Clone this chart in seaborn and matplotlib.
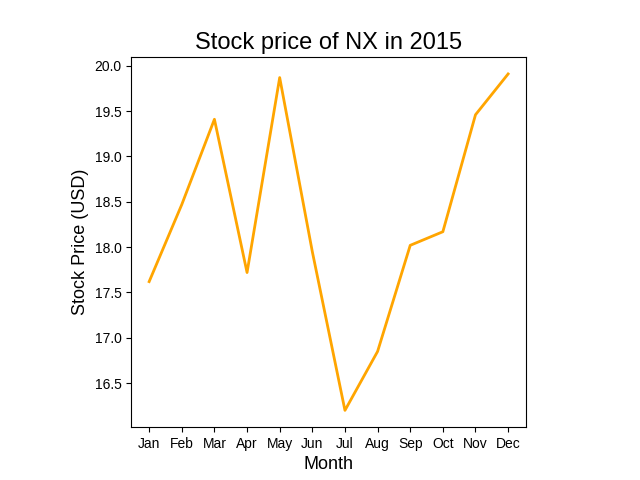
import matplotlib
matplotlib.use("Agg")
import matplotlib.pyplot as plt
import seaborn as sns
import pandas as pd

months = ["Jan","Feb","Mar","Apr","May","Jun","Jul","Aug","Sep","Oct","Nov","Dec"]
prices = [17.62, 18.47, 19.41, 17.72, 19.87, 17.95, 16.20, 16.85, 18.02, 18.17, 19.46, 19.91]

plt.rcParams['font.family'] = ['Liberation Sans', 'DejaVu Sans']
df = pd.DataFrame({"Month": months, "Price": prices})
fig = plt.figure(figsize=(6.4, 4.8), dpi=100)
ax = fig.add_axes([0.205, 0.110, 0.617, 0.771])
sns.lineplot(data=df, x="Month", y="Price", color="orange", linewidth=2, ax=ax, sort=False)
ax.set_title("Stock price of NX in 2015", fontsize=17)
ax.set_xlabel("Month", fontsize=13)
ax.set_ylabel("Stock Price (USD)", fontsize=13)
fig.savefig("out.png")
